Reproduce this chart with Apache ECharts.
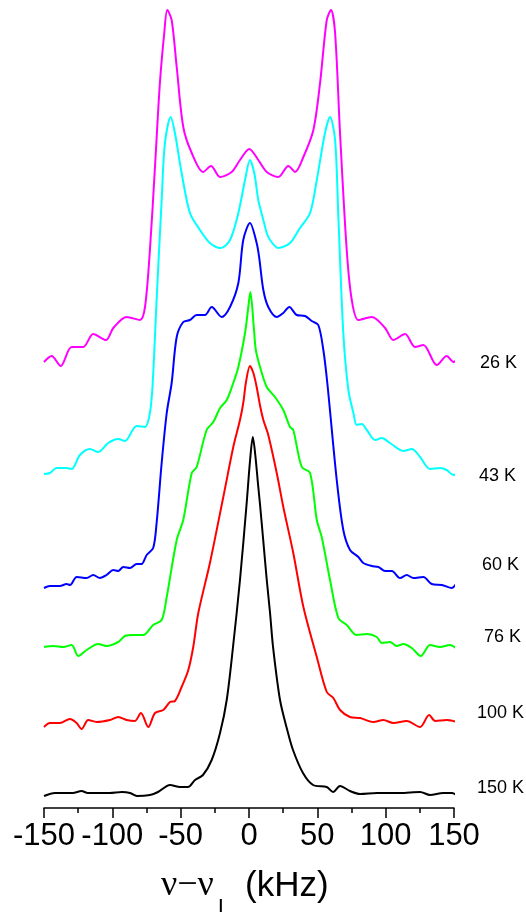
<!DOCTYPE html>
<html><head><meta charset="utf-8">
<script src="https://cdn.jsdelivr.net/npm/echarts@6/dist/echarts.min.js"></script>
<style>html,body{margin:0;padding:0;background:#fff}#c{width:526px;height:912px}</style>
</head><body><div id="c"></div>
<script>
// Temperatures (series names) and vertical stacking offsets of each spectrum
const tempLabels = ['150 K', '100 K', '76 K', '60 K', '43 K', '26 K'];
const offsets = [13, 83, 161, 220, 334, 446];
const colors = ['#000000', '#ff0000', '#00ff00', '#0000ff', '#00ffff', '#ff00ff'];
const xTicks = [-150, -100, -50, 0, 50, 100, 150];

// spectra: [frequency offset (kHz), intensity (arb.)]
const s150K = [[-150,-1],[-142,2],[-136,2],[-129,2],[-122.5,4],[-118,2],[-111.5,2],[-102,2],[-93,3],[-87,2],[-82,-1],[-72.5,0],[-66.6,3],[-57.8,10],[-50.5,8],[-44.7,8],[-39.5,15],[-33.7,20],[-27.3,35],[-21.2,62],[-16.3,95],[-11.7,148],[-6.6,215],[-1.7,292],[0.8,335],[2.8,358],[4.6,340],[6.8,308],[8.1,290],[10.2,258],[13,215],[15.4,182],[17.6,148],[22.7,95],[28,65],[32.2,45],[39.5,22],[46.9,10],[56.9,8],[61.5,3],[66.6,9],[73.9,4],[81.3,1],[93.5,2],[110.5,2],[125.2,3],[132.5,0],[142,2],[148.4,2],[152,0]];
const s100K = [[-150,-2],[-145.7,2],[-138.4,2],[-131,6],[-126.1,2],[-122.5,-4],[-117.6,5],[-111.5,3],[-101.8,5],[-95.7,8],[-89.5,5],[-83.5,4],[-79.1,12],[-73.7,-2],[-68.8,12],[-62.7,15],[-57.8,23],[-54.2,24],[-49.3,38],[-44.4,55],[-40.8,78],[-37.1,112],[-28.6,162],[-18.8,228],[-11.5,278],[-6.6,305],[-4.2,322],[-2.2,343],[0.7,359],[3.2,352],[5.6,338],[8,320],[10.5,305],[14.1,290],[20.3,252],[25.1,218],[32.4,172],[39.8,118],[49.6,68],[56.9,33],[61.7,27],[66.6,15],[73.9,8],[81.3,7],[91,3],[98.3,5],[105.6,2],[115.4,4],[125.2,-2],[131.8,10],[136.2,4],[144.7,5],[152,3]];
const s76K = [[-150,0],[-143.3,1],[-135.9,0],[-129.8,2],[-124.9,-9],[-118.8,-3],[-110.3,3],[-104.2,1],[-95.7,5],[-90.8,11],[-84.6,12],[-77.4,12],[-70.1,22],[-63.9,27],[-60.2,50],[-52.9,107],[-48.1,127],[-41.9,174],[-38.3,180],[-31,217],[-26.1,225],[-21.2,239],[-16.3,247],[-11.5,264],[-7.8,280],[-2.9,314],[-0.5,340],[1,355],[3.5,320],[5,297],[8.1,280],[13,260],[19,250],[25.1,237],[30,220],[32.4,217],[38.6,180],[44.7,174],[49.6,127],[53.2,110],[59.3,67],[65.4,29],[71.5,22],[78.8,12],[86.2,13],[93.5,10],[97.1,4],[103.2,5],[108.1,1],[113,3],[119.1,-1],[125.7,-9],[132.5,2],[139.8,0],[147.1,2],[152,-2]];
const s60K = [[-150,0],[-145.7,2],[-138.4,2],[-133.5,4],[-131,3],[-126.1,11],[-118.8,10],[-114,13],[-109.1,10],[-104.2,13],[-99.3,18],[-95.7,17],[-92,21],[-87.1,20],[-82.2,24],[-78.6,24],[-74.9,33],[-70.1,40],[-67.6,65],[-63.9,125],[-60.2,175],[-56.6,205],[-52.9,251],[-48.1,266],[-43.2,268],[-38.3,273],[-32.2,273],[-27.3,281],[-20,271],[-13.9,281],[-7.8,305],[-4.2,348],[0.7,365],[5.6,345],[7.5,330],[10.5,298],[14.1,281],[20.3,271],[25.1,275],[29.5,281],[34.9,273],[41,272],[45.9,267],[50.7,263],[54.4,238],[57.3,205],[64.2,108],[69,58],[73.9,38],[80,31],[83.7,25],[89.8,22],[94.7,21],[99.6,17],[104.5,17],[110.5,10],[115.4,13],[120.3,10],[127.6,11],[133.7,4],[141.1,3],[148.4,0],[152,5]];
const s43K = [[-150,0],[-145.7,1],[-140.8,6],[-133.5,6],[-129.8,5],[-123.7,19],[-116.4,25],[-110.3,22],[-103,31],[-95.7,35],[-90.8,33],[-82.2,48],[-76.1,47],[-72.5,61],[-70.5,90],[-67.6,174],[-63.9,274],[-61.5,331],[-57.3,357],[-54.2,341],[-49.3,301],[-43.2,261],[-35.9,244],[-28.6,231],[-20.7,226],[-13.9,234],[-7.8,261],[-2.9,294],[0.7,314],[4,300],[6.8,274],[10.5,254],[13,241],[15.4,234],[21.4,226],[30,231],[37.3,246],[44.7,261],[49.6,294],[55.6,341],[59.3,357],[63,334],[65.4,257],[69,141],[72.7,84],[76.4,61],[78.8,49],[82.5,50],[86.2,44],[92.2,34],[97.1,36],[103.2,31],[113,23],[119.1,25],[125.2,17],[132.5,5],[139.8,6],[144.7,4],[149.6,-1],[152,0]];
const s26K = [[-150,0],[-144.4,6],[-137.8,-4],[-129.8,15],[-121.3,15],[-114,28],[-104.7,22],[-99.3,34],[-89.5,45],[-79.8,42],[-76.1,55],[-72.5,112],[-68.8,195],[-65.2,279],[-62,329],[-59.8,352],[-56.6,342],[-52.9,295],[-48.1,235],[-41.9,209],[-33.5,190],[-27.8,196],[-21.2,185],[-12.7,190],[-6.6,202],[0.2,213],[6.8,202],[13,190],[21.4,185],[28.8,196],[33.7,190],[39.8,205],[47.1,232],[52,279],[56.9,342],[60,352],[63,329],[66.6,229],[71.5,112],[75.2,62],[80,42],[89.8,45],[99.6,34],[105.6,22],[114.2,28],[121.5,15],[127.6,17],[137.4,-3],[144.7,6],[149.6,0],[152,2]];

const spectra = [s150K, s100K, s76K, s60K, s43K, s26K];
// label layout (pixel positions of the temperature labels)
const labelPos = [[477, 788], [477, 713], [484, 637], [482, 565], [479, 476], [480, 363]];

const chart = echarts.init(document.getElementById('c'), null, {renderer: 'canvas'});
const series = spectra.map((d, i) => ({
  name: tempLabels[i],
  type: 'line',
  data: d.map(p => [p[0], p[1] + offsets[i]]),
  showSymbol: false,
  smooth: 0.3,
  clip: false,
  lineStyle: {color: colors[i], width: 2},
  z: 2 + i
}));

const graphic = tempLabels.map((t, i) => ({
  type: 'text', x: labelPos[i][0], y: labelPos[i][1],
  style: {text: t, font: '18px "Liberation Sans", Arial, sans-serif', fill: '#000', align: 'left', verticalAlign: 'middle'}
}));
graphic.push(
  {type: 'text', x: 161, y: 886, style: {text: 'ν−ν', font: '36px "Liberation Serif", "Times New Roman", serif', fill: '#000', align: 'left', verticalAlign: 'middle'}},
  {type: 'text', x: 218, y: 897, style: {text: 'L', font: '22px "Liberation Sans", Arial, sans-serif', fill: '#000', align: 'left', verticalAlign: 'top'}},
  {type: 'text', x: 245, y: 886, style: {text: '(kHz)', font: '35px "Liberation Sans", Arial, sans-serif', fill: '#000', align: 'left', verticalAlign: 'middle'}}
);

chart.setOption({
  animation: false,
  backgroundColor: '#fff',
  grid: {left: 44, right: 72, top: 8, bottom: 104, containLabel: false},
  xAxis: {
    type: 'value', min: xTicks[0], max: xTicks[xTicks.length - 1], interval: 50,
    axisLine: {show: true, onZero: false, lineStyle: {color: '#000', width: 1.5}},
    axisTick: {show: true, inside: false, length: 10, lineStyle: {color: '#000', width: 1.5}},
    minorTick: {show: true, splitNumber: 2, length: 5, lineStyle: {color: '#000', width: 1.5}},
    splitLine: {show: false},
    axisLabel: {show: true, color: '#000', fontSize: 31, fontFamily: '"Liberation Sans", Arial, sans-serif', margin: 13}
  },
  yAxis: {type: 'value', min: 0, max: 800, show: false, splitLine: {show: false}},
  series: series,
  graphic: graphic
});
</script>
</body></html>
